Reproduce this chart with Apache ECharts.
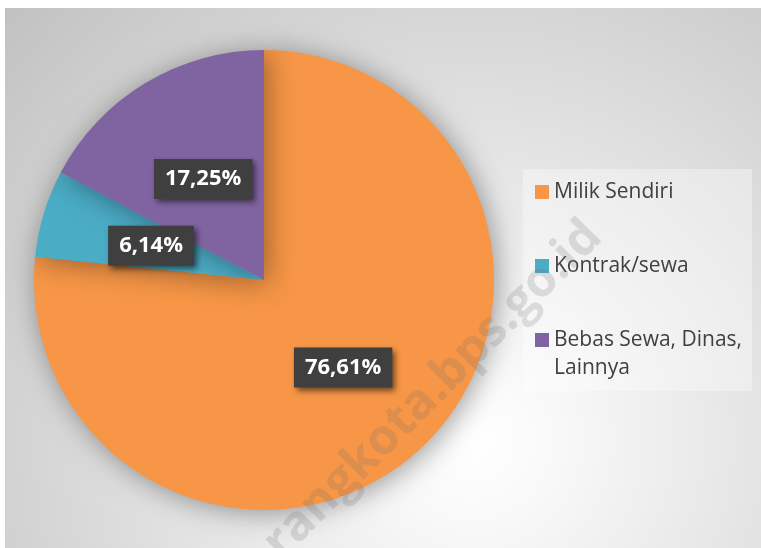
<!DOCTYPE html>
<html>
<head>
<meta charset="utf-8">
<script src="https://cdn.jsdelivr.net/npm/echarts@6/dist/echarts.min.js"></script>
<style>
  html, body { margin: 0; padding: 0; background: #fff; }
  #main { width: 761px; height: 548px; }
</style>
</head>
<body>
<div id="main"></div>
<script>
var categories = ['Milik Sendiri', 'Kontrak/sewa', 'Bebas Sewa, Dinas,\nLainnya'];
var shares = [76.61, 6.14, 17.25];
var colors = ['#F79646', '#4BACC6', '#8064A2'];

var myChart = echarts.init(document.getElementById('main'));

var option = {
    animation: false,
    graphic: [
        {
            type: 'rect',
            z: -10,
            shape: { x: 5, y: 8, width: 756, height: 540 },
            style: {
                fill: {
                    type: 'radial', x: 0.62, y: 0.8, r: 1.2,
                    colorStops: [
                        { offset: 0, color: '#ffffff' },
                        { offset: 0.12, color: '#f9f9f9' },
                        { offset: 1, color: '#c0c0c0' }
                    ]
                }
            }
        },
        {
            type: 'rect',
            z: -9,
            shape: { x: 523, y: 169, width: 229, height: 222 },
            style: { fill: 'rgba(255,255,255,0.35)' }
        },
        {
            type: 'text',
            z: 100,
            x: 594,
            y: 229,
            rotation: Math.PI / 4,
            style: {
                text: 'semarangkota.bps.go.id',
                fill: 'rgba(110,110,110,0.2)',
                font: 'bold 49px "Open Sans"',
                align: 'right',
                verticalAlign: 'middle'
            },
            silent: true
        }
    ],
    legend: {
        orient: 'vertical',
        left: 535,
        top: 150,
        padding: 0,
        itemGap: 18,
        itemWidth: 14,
        itemHeight: 14,
        icon: 'rect',
        selectedMode: false,
        // empty lines keep the first text line level with the square
        formatter: function (name) {
            if (name === categories[0]) return '\n' + name + '\n';
            if (name === categories[2]) return '\n' + name;
            return name;
        },
        textStyle: {
            fontFamily: 'Open Sans',
            fontSize: 21,
            lineHeight: 28,
            color: '#404040'
        },
        data: categories
    },
    series: [
        {
            type: 'pie',
            center: [264, 280],
            radius: 230,
            startAngle: 90,
            clockwise: true,
            avoidLabelOverlap: false,
            itemStyle: {
                shadowBlur: 28,
                shadowColor: 'rgba(0,0,0,0.38)',
                shadowOffsetX: 3,
                shadowOffsetY: 3
            },
            emphasis: { disabled: true },
            label: {
                show: true,
                position: 'inside',
                formatter: function (p) {
                    return p.value.toFixed(2).replace('.', ',') + '%';
                },
                fontFamily: 'Open Sans',
                fontWeight: 'bold',
                fontSize: 22,
                lineHeight: 26,
                color: '#ffffff',
                backgroundColor: '#3f3f3f',
                padding: [7, 11],
                shadowColor: 'rgba(0,0,0,0.55)',
                shadowBlur: 6,
                shadowOffsetX: 3,
                shadowOffsetY: 3
            },
            labelLine: { show: false },
            data: categories.map(function (c, i) {
                return { name: c, value: shares[i], itemStyle: { color: colors[i] } };
            })
        }
    ]
};
myChart.setOption(option);
</script>
</body>
</html>
